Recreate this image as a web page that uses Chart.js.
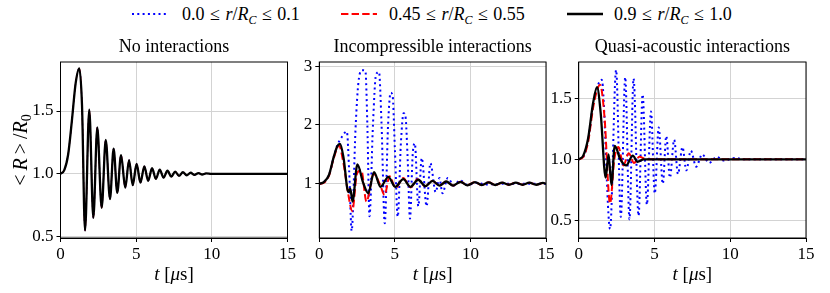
<!DOCTYPE html>
<html>
<head>
<meta charset="utf-8">
<script src="https://cdn.jsdelivr.net/npm/chart.js@4.4.0/dist/chart.umd.min.js"></script>
<style>
  body { margin: 0; background: #fff; width: 830px; height: 293px; position: relative; overflow: hidden; font-family: "Liberation Serif", serif; }
  canvas { position: absolute; left: 0; top: 0; }
  .key { position: absolute; top: 8px; }
  .txt { position: absolute; top: 3px; font-size: 18px; line-height: 22px; white-space: nowrap; color: #000; word-spacing: 1px; }
  .txt sub { font-size: 12px; font-style: italic; line-height: 0; vertical-align: -4px; }
</style>
</head>
<body>
<svg class="key" style="left:130px" width="40" height="12"><line x1="2" y1="6" x2="38" y2="6" stroke="#0000ff" stroke-width="2" stroke-dasharray="2,3.3"/></svg>
<div class="txt" style="left:182px">0.0 &le; <i>r</i>/<i>R</i><sub>C</sub> &le; 0.1</div>
<svg class="key" style="left:339px" width="40" height="12"><line x1="2" y1="6" x2="38" y2="6" stroke="#ff0000" stroke-width="2" stroke-dasharray="7.4,3.2"/></svg>
<div class="txt" style="left:389px">0.45 &le; <i>r</i>/<i>R</i><sub>C</sub> &le; 0.55</div>
<svg class="key" style="left:565px" width="40" height="12"><line x1="2" y1="6" x2="38" y2="6" stroke="#000000" stroke-width="2.5"/></svg>
<div class="txt" style="left:614px">0.9 &le; <i>r</i>/<i>R</i><sub>C</sub> &le; 1.0</div>

<canvas id="c1" width="830" height="293"></canvas>
<canvas id="c2" width="830" height="293"></canvas>
<canvas id="c3" width="830" height="293"></canvas>

<script>
// tick labels
const timeTicks = [0, 5, 10, 15];
const noneTicks = [0.5, 1.0, 1.5];
const incTicks = [1, 2, 3];
const quasiTicks = [0.5, 1.0, 1.5];

// no interactions (all radii give the same curve)
const tNone = [0, 0.25, 0.5, 0.75, 1.0, 1.24, 1.42, 1.62, 1.9, 2.17, 2.43, 2.72, 2.99, 3.27, 3.51, 3.75, 4.0, 4.28, 4.53, 4.77, 5.03, 5.28, 5.54, 5.79, 6.05, 6.3, 6.56, 6.81, 7.07, 7.32, 7.58, 7.83, 8.09, 8.34, 8.6, 8.85, 9.11, 9.36, 9.62, 10.0, 12.0, 15.0];
const rNone = [1.0, 1.03, 1.15, 1.42, 1.72, 1.84, 1.55, 0.55, 1.51, 0.65, 1.37, 0.73, 1.27, 0.80, 1.20, 0.85, 1.15, 0.89, 1.11, 0.91, 1.08, 0.93, 1.06, 0.945, 1.045, 0.96, 1.034, 0.97, 1.025, 0.978, 1.018, 0.984, 1.013, 0.989, 1.009, 0.992, 1.006, 0.995, 1.004, 1.0, 1.0, 1.0];

// incompressible interactions
const tIncBlack = [0, 0.3, 0.64, 0.97, 1.19, 1.37, 1.6, 1.92, 2.05, 2.2, 2.52, 2.9, 3.24, 3.62, 4.05, 4.57, 5.02, 5.56, 6.02, 6.55, 7.02, 7.5, 7.95, 8.4, 8.85, 9.35, 9.8, 10.3, 10.75, 11.2, 11.65, 12.1, 12.55, 13.0, 13.45, 13.9, 14.35, 14.8, 15];
const rIncBlack = [1.0, 1.03, 1.15, 1.47, 1.64, 1.68, 1.45, 0.86, 0.92, 0.70, 1.33, 1.02, 0.84, 1.2, 0.95, 1.12, 0.95, 1.08, 0.95, 1.07, 0.96, 1.05, 0.97, 1.04, 0.97, 1.035, 0.975, 1.03, 0.98, 1.025, 0.98, 1.02, 0.985, 1.02, 0.985, 1.02, 0.985, 1.015, 1.0];
const tIncRed = [0, 0.3, 0.64, 0.97, 1.3, 1.6, 1.9, 2.18, 2.5, 2.78, 3.12, 3.6, 4.0, 4.32, 4.65, 5.05, 5.55, 6.05, 6.5, 7.0, 7.5, 7.95, 8.4, 8.85, 9.35, 9.8, 10.3, 10.75, 11.2, 11.65, 12.1, 12.55, 13.0, 13.45, 13.9, 14.35, 14.8, 15];
const rIncRed = [1.0, 1.02, 1.14, 1.45, 1.65, 1.35, 0.85, 0.54, 1.18, 1.23, 0.70, 1.17, 1.0, 0.81, 1.13, 0.93, 1.1, 0.94, 1.08, 0.96, 1.05, 0.97, 1.04, 0.97, 1.035, 0.975, 1.03, 0.98, 1.025, 0.98, 1.02, 0.985, 1.02, 0.985, 1.02, 0.985, 1.015, 1.0];
const tIncBlue = [0, 0.3, 0.64, 0.97, 1.2, 1.45, 1.82, 1.98, 2.14, 2.4, 2.6, 2.85, 3.05, 3.18, 3.32, 3.55, 3.75, 3.95, 4.12, 4.33, 4.55, 4.72, 4.85, 5.0, 5.19, 5.4, 5.58, 5.7, 5.85, 6.0, 6.18, 6.32, 6.55, 6.78, 7.1, 7.35, 7.7, 7.95, 8.15, 8.5, 8.9, 9.3, 9.8, 10.4, 11.0, 12.0, 15.0];
const rIncBlue = [1.0, 1.03, 1.15, 1.47, 1.66, 1.78, 1.89, 1.2, 0.2, 1.95, 2.75, 2.93, 2.92, 2.0, 0.45, 2.0, 2.85, 2.9, 2.0, 0.33, 2.0, 2.55, 2.5, 1.6, 0.44, 1.7, 2.2, 2.15, 1.4, 0.41, 1.5, 1.69, 0.62, 1.44, 0.62, 1.35, 0.86, 1.1, 0.84, 1.1, 0.97, 1.06, 0.98, 1.02, 0.99, 1.0, 1.0];

// quasi-acoustic interactions
const tQuasiBlack = [0, 0.3, 0.62, 0.95, 1.21, 1.45, 1.78, 1.97, 2.16, 2.38, 2.75, 3.13, 3.57, 3.88, 4.3, 5.0, 15.0];
const rQuasiBlack = [1.0, 1.03, 1.17, 1.46, 1.59, 1.38, 0.85, 1.04, 0.79, 1.11, 1.0, 0.95, 1.03, 0.98, 1.0, 1.0, 1.0];
const tQuasiRed = [0, 0.3, 0.62, 0.95, 1.2, 1.41, 1.7, 2.07, 2.35, 2.62, 2.95, 3.3, 3.65, 4.0, 4.5, 15.0];
const rQuasiRed = [1.0, 1.02, 1.14, 1.42, 1.56, 1.61, 1.35, 0.64, 1.0, 1.10, 0.95, 1.05, 0.97, 1.02, 1.0, 1.0];
const tQuasiBlue = [0, 0.3, 0.62, 0.95, 1.25, 1.52, 2.07, 2.47, 2.78, 3.07, 3.35, 3.62, 3.95, 4.22, 4.5, 4.77, 5.02, 5.28, 5.55, 5.78, 6.02, 6.3, 6.55, 6.85, 7.1, 7.4, 7.75, 8.15, 8.6, 9.1, 9.6, 10.3, 11.0, 12.0, 15.0];
const rQuasiBlue = [1.0, 1.02, 1.15, 1.45, 1.6, 1.65, 0.43, 1.73, 0.53, 1.67, 0.51, 1.66, 0.54, 1.53, 0.63, 1.39, 0.72, 1.26, 0.80, 1.19, 0.85, 1.16, 0.88, 1.10, 0.91, 1.07, 0.94, 1.04, 0.97, 1.02, 0.99, 1.01, 1.0, 1.0, 1.0];

const SERIF = '"Liberation Serif", "Times New Roman", serif';
const GRID = '#d3d3d3';

function pts(ts, vs) {
  return ts.map((t, i) => ({ x: t, y: vs[i] }));
}

// thin = true when the three curves sit exactly on top of each other
function lines(black, red, blue, thin) {
  const under = thin ? 1.2 : 2;
  // first dataset ends up on top
  return [
    { data: black, borderColor: '#000000', borderWidth: 2.3 },
    { data: red, borderColor: '#ff0000', borderWidth: under, borderDash: [7.4, 3.2] },
    { data: blue, borderColor: '#0000ff', borderWidth: under, borderDash: [2, 3.3] }
  ].map(d => Object.assign(d, { pointRadius: 0, fill: false, cubicInterpolationMode: 'monotone' }));
}

// text with italic / subscript runs, centred on (x, y)
function drawRuns(ctx, runs, x, y, size, angle) {
  const fontOf = r => (r.i ? 'italic ' : '') + (r.sub ? Math.round(size * 0.7) : size) + 'px ' + SERIF;
  ctx.save();
  ctx.translate(x, y);
  ctx.rotate(angle || 0);
  ctx.fillStyle = '#000';
  ctx.textBaseline = 'middle';
  ctx.textAlign = 'left';
  let total = 0;
  runs.forEach(r => { ctx.font = fontOf(r); total += ctx.measureText(r.t).width; });
  let cx = -total / 2;
  runs.forEach(r => {
    ctx.font = fontOf(r);
    ctx.fillText(r.t, cx, r.sub ? size * 0.28 : 0);
    cx += ctx.measureText(r.t).width;
  });
  ctx.restore();
}

const tLabel = [{ t: 't', i: true }, { t: ' [' }, { t: 'μ', i: true }, { t: 's]' }];
const rLabel = [{ t: '<\u2009' }, { t: 'R', i: true }, { t: '\u2009>\u2009/' }, { t: 'R', i: true }, { t: '0', sub: true }];

const frame = {
  id: 'frame',
  afterDraw(chart) {
    const ctx = chart.ctx, a = chart.chartArea;
    ctx.save();
    ctx.strokeStyle = '#000';
    ctx.lineWidth = 1;
    ctx.strokeRect(a.left, a.top, a.right - a.left, a.bottom - a.top);
    ctx.restore();
    drawRuns(ctx, tLabel, (a.left + a.right) / 2, 275, 19);
    if (chart.options.plugins.yTitle) {
      drawRuns(ctx, rLabel, 22, 150, 20, -Math.PI / 2);
    }
  }
};

function build(id, box, yMin, yMax, yTicks, fmt, datasets, title, yTitle) {
  const yW = 45, xH = 30, titleH = 18 * 1.2 + 4;
  new Chart(document.getElementById(id), {
    type: 'line',
    data: { datasets: datasets },
    options: {
      responsive: false,
      animation: false,
      events: [],
      layout: {
        padding: { left: box.left - yW, right: 830 - box.right, top: box.top - titleH, bottom: 293 - box.bottom - xH }
      },
      plugins: {
        legend: { display: false },
        tooltip: { enabled: false },
        yTitle: yTitle,
        title: {
          display: true, text: title, fullSize: false, color: '#000',
          font: { family: SERIF, size: 18, weight: 'normal', lineHeight: 1.2 },
          padding: { top: 0, bottom: 4 }
        }
      },
      scales: {
        x: {
          type: 'linear', min: 0, max: 15,
          afterFit: s => { s.height = xH; },
          afterBuildTicks: s => { s.ticks = timeTicks.map(v => ({ value: v })); },
          grid: { color: GRID, tickColor: '#000', tickLength: 4 },
          border: { color: '#000' },
          ticks: { color: '#000', font: { family: SERIF, size: 17 }, padding: 2, maxRotation: 0, callback: v => String(v) }
        },
        y: {
          type: 'linear', min: yMin, max: yMax,
          afterFit: s => { s.width = yW; },
          afterBuildTicks: s => { s.ticks = yTicks.map(v => ({ value: v })); },
          grid: { color: GRID, tickColor: '#000', tickLength: 4 },
          border: { color: '#000' },
          ticks: { color: '#000', font: { family: SERIF, size: 17 }, padding: 3, callback: fmt }
        }
      }
    },
    plugins: [frame]
  });
}

const none = pts(tNone, rNone);
build('c1', { left: 60.5, right: 287.5, top: 62, bottom: 238 }, 0.49, 1.89, noneTicks, v => v.toFixed(1),
  lines(none, none, none, true), 'No interactions', true);

build('c2', { left: 319.3, right: 546, top: 62, bottom: 238 }, 0.08, 3.07, incTicks, v => String(v),
  lines(pts(tIncBlack, rIncBlack), pts(tIncRed, rIncRed), pts(tIncBlue, rIncBlue), false), 'Incompressible interactions', false);

build('c3', { left: 578.7, right: 806, top: 62, bottom: 238 }, 0.357, 1.795, quasiTicks, v => v.toFixed(1),
  lines(pts(tQuasiBlack, rQuasiBlack), pts(tQuasiRed, rQuasiRed), pts(tQuasiBlue, rQuasiBlue), false), 'Quasi-acoustic interactions', false);
</script>
</body>
</html>
